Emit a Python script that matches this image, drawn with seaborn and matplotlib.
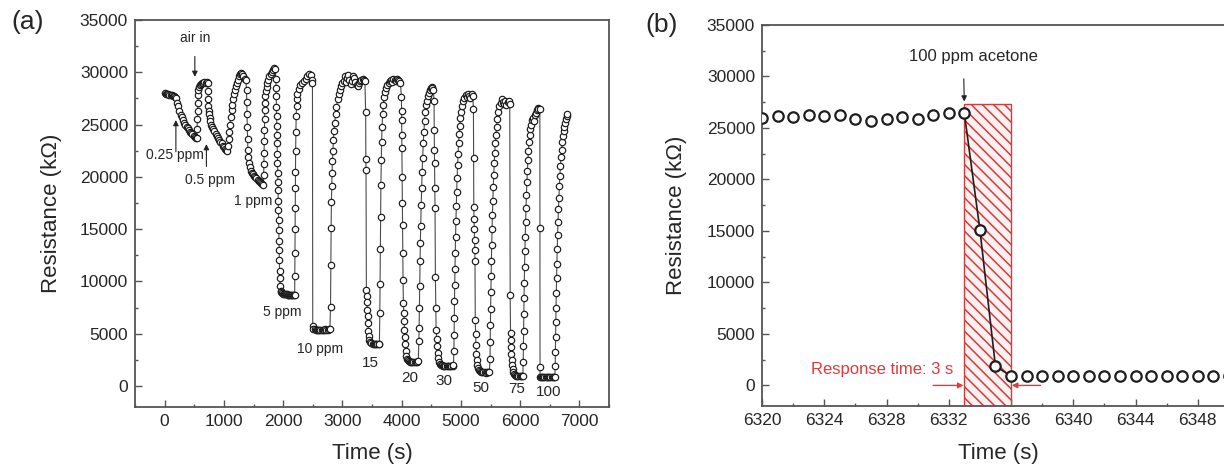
import numpy as np
import pandas as pd
import matplotlib
matplotlib.use("Agg")
import matplotlib.pyplot as plt
from matplotlib.patches import Rectangle
from matplotlib.ticker import MultipleLocator, FixedLocator
import seaborn as sns

# ---- panel (a): resistance vs time, one list pair per acetone pulse ----
t_0p25 = [0, 20, 40, 60, 80, 100, 120, 140, 160, 180,
          200, 215, 230, 250, 270, 290, 310, 330, 350, 370, 390, 410, 430, 450, 470, 490, 510, 530, 545,
          548, 552, 556, 560, 565, 570, 580, 595, 610, 630, 650, 670, 690, 710, 725]
r_0p25 = [28000, 27950, 27900, 27900, 27850, 27800, 27800, 27700, 27700, 27600,
          27500, 27100, 26800, 26300, 25900, 25700, 25400, 25200, 25000, 24800, 24700, 24500, 24300, 24200, 24100, 23950, 23850, 23750, 23700,
          24600, 25500, 26300, 27100, 27800, 28300, 28600, 28800, 28900, 29000, 29000, 29050, 29000, 29050, 29000]

t_0p5 = [732, 736, 740, 745, 750, 760, 770, 785, 800, 820, 840, 860, 880, 900, 920, 940, 960, 980, 1000, 1020, 1040, 1060,
         1070, 1080, 1090, 1100, 1115, 1130, 1145, 1160, 1175, 1190, 1205, 1220, 1240, 1260, 1280, 1295, 1310, 1330, 1350, 1370]
r_0p5 = [28200, 27400, 26800, 26300, 26000, 25600, 25300, 25000, 24800, 24550, 24350, 24100, 23900, 23700, 23500, 23350, 23200, 23000, 22850, 22700, 22600, 22500,
         23000, 23600, 24300, 25000, 25700, 26400, 26900, 27400, 27900, 28300, 28700, 29000, 29300, 29600, 29800, 29900, 29800, 29600, 29400, 29300]

t_1 = [1382, 1386, 1390, 1395, 1400, 1405, 1410, 1420, 1435, 1450, 1470, 1490, 1510, 1530, 1550, 1570, 1590, 1610, 1630, 1650, 1668,
       1672, 1675, 1678, 1681, 1684, 1687, 1690, 1695, 1700, 1710, 1720, 1735, 1750, 1770, 1790, 1810, 1830, 1850, 1865]
r_1 = [28300, 27200, 26000, 24800, 23600, 22600, 21900, 21300, 20900, 20600, 20400, 20250, 20100, 19950, 19850, 19700, 19600, 19500, 19400, 19300, 19250,
       20200, 21200, 22300, 23400, 24500, 25500, 26400, 27100, 27700, 28200, 28600, 29000, 29300, 29600, 29800, 30000, 30200, 30400, 30300]

t_5 = [1878, 1881, 1884, 1887, 1890, 1893, 1896, 1899, 1902, 1905, 1908, 1911, 1914, 1917, 1920, 1923, 1926, 1929, 1932, 1936, 1940, 1945, 1950, 1960,
       1970, 1985, 2000, 2015, 2030, 2045, 2060, 2075, 2090, 2105, 2120, 2135, 2150, 2165, 2180, 2195,
       2197, 2199, 2201, 2203, 2205, 2208, 2211, 2215, 2220, 2226, 2233, 2240,
       2260, 2290, 2320, 2350, 2380, 2410, 2440, 2470, 2490]
r_5 = [29400, 28500, 27700, 26700, 25800, 24900, 24000, 23200, 22200, 21300, 20400, 19500, 18700, 17700, 16800, 15900, 14900, 13900, 13000, 12100, 11000, 10300, 9600, 9100,
       8950, 8900, 8850, 8850, 8800, 8800, 8800, 8750, 8750, 8750, 8700, 8750, 8700, 8700, 8700, 8750,
       10500, 12700, 15000, 17000, 18900, 20500, 22500, 24300, 25800, 26800, 27400, 27900,
       28400, 28800, 29000, 29200, 29400, 29600, 29800, 29700, 29300]

t_10 = [2495, 2500,
        2510, 2530, 2550, 2570, 2590, 2610, 2630, 2650, 2670, 2690, 2710, 2730, 2750, 2770, 2790,
        2800, 2805, 2810, 2815, 2820, 2826, 2832, 2840, 2848, 2858, 2870, 2885, 2900, 2920, 2940, 2960, 2980, 3000,
        3020, 3040, 3060, 3080, 3100, 3120, 3140, 3160, 3180, 3200, 3220, 3240, 3260, 3280, 3300, 3320, 3340, 3360, 3380]
r_10 = [29000, 5700,
        5500, 5450, 5400, 5400, 5400, 5400, 5350, 5400, 5400, 5400, 5450, 5400, 5400, 5450, 5500,
        7600, 11600, 15100, 17600, 19100, 20400, 21500, 22500, 23500, 24400, 25200, 26000, 26700, 27400, 27900, 28300, 28700, 29000,
        29200, 29600, 29100, 29500, 29700, 29300, 28900, 29200, 29600, 29500, 29100, 28800, 28700, 29000, 29200, 29300, 29400, 29300, 29200]

t_15 = [3393, 3396, 3399, 3405, 3410, 3415, 3420, 3425, 3430, 3437, 3445, 3455, 3470, 3490, 3510, 3530, 3550, 3570, 3590, 3610, 3625,
        3632, 3636, 3640, 3645, 3650, 3656, 3662, 3670, 3680, 3692, 3705, 3720, 3740, 3760,
        3780, 3800, 3820, 3840, 3860, 3880, 3900, 3920, 3940, 3960, 3980]
r_15 = [26200, 21700, 20700, 9200, 8600, 8000, 7300, 6700, 6000, 5300, 4800, 4400, 4200, 4100, 4050, 4000, 4000, 4000, 4000, 4000, 4050,
        7000, 9800, 13100, 16200, 19200, 21600, 23300, 24800, 26000, 26900, 27600, 28100, 28500, 28800,
        29000, 29200, 29300, 29100, 29400, 29300, 29200, 29400, 29300, 29200, 29000]

t_20 = [3997, 3999, 4001, 4003, 4005, 4008, 4011, 4015, 4019, 4024, 4030, 4036, 4042, 4048, 4055, 4062, 4070, 4080, 4092, 4105,
        4120, 4140, 4160, 4180, 4200, 4220, 4240, 4260, 4280,
        4292, 4296, 4300, 4305, 4310, 4316, 4322, 4330, 4338, 4346, 4355, 4365, 4375, 4387, 4400, 4415, 4430,
        4445, 4460, 4475, 4490, 4505, 4520, 4535]
r_20 = [27600, 26300, 25400, 24000, 22800, 20000, 17500, 15400, 12700, 10100, 7900, 7000, 6200, 5400, 4700, 4000, 3400, 2900, 2600, 2450,
        2400, 2350, 2350, 2350, 2350, 2350, 2300, 2350, 2400,
        4300, 5600, 7500, 9600, 12000, 13700, 15300, 17300, 18900, 20500, 21800, 23200, 24300, 25300, 26200, 26900, 27300,
        27700, 28000, 28300, 28500, 28600, 28500, 28300]

t_30 = [4547, 4550, 4553, 4556, 4560, 4564, 4570, 4576, 4582, 4590, 4598, 4606, 4615, 4625, 4640,
        4660, 4680, 4700, 4720, 4740, 4760, 4780, 4800, 4820, 4840, 4860, 4875,
        4882, 4885, 4888, 4892, 4896, 4900, 4905, 4910, 4916, 4922, 4929, 4936, 4944, 4952, 4961, 4970, 4980, 4992, 5005,
        5020, 5040, 5060, 5080, 5100, 5120, 5140, 5160, 5180, 5200]
r_30 = [27300, 24500, 22600, 21300, 18900, 17000, 10400, 7500, 5400, 4500, 3800, 3200, 2700, 2300, 2100,
        2000, 2000, 1950, 1950, 1950, 1950, 1950, 1950, 1950, 1950, 1950, 2000,
        3400, 4900, 6500, 8100, 9700, 11200, 12700, 14300, 15800, 17200, 18600, 19900, 21100, 22200, 23200, 24100, 24900, 25600, 26200,
        26800, 27300, 27500, 27800, 27600, 27900, 27700, 27500, 27900, 27700]

t_50 = [5212, 5215, 5218, 5222, 5226, 5230, 5234, 5238, 5243, 5248, 5254, 5262, 5270, 5280, 5292, 5305, 5320,
        5340, 5360, 5380, 5400, 5420, 5440, 5460, 5480,
        5492, 5495, 5498, 5502, 5506, 5510, 5515, 5520, 5526, 5532, 5539, 5546, 5554, 5562, 5571, 5580, 5590, 5602, 5615,
        5630, 5650, 5670, 5690, 5710, 5730, 5750, 5770, 5790, 5810]
r_50 = [26500, 21800, 17100, 16000, 15000, 14000, 13000, 12000, 6300, 5000, 3900, 3100, 2500, 2000, 1700, 1500, 1400,
        1350, 1300, 1300, 1300, 1250, 1300, 1300, 1300,
        2600, 4200, 5800, 7400, 9000, 10500, 12000, 13500, 15000, 16400, 17700, 19000, 20200, 21300, 22300, 23200, 24000, 24800, 25500,
        26200, 26800, 27100, 27400, 27200, 27000, 27300, 26900, 27200, 27300]

t_75 = [5825, 5832, 5838, 5843, 5848, 5854, 5860, 5867, 5875, 5885, 5897, 5910,
        5930, 5950, 5970, 5990, 6010, 6030, 6045,
        6052, 6055, 6058, 6062, 6066, 6070, 6075, 6080, 6086, 6092, 6099, 6106, 6114, 6122, 6131, 6140, 6150, 6160,
        6175, 6190, 6205, 6220, 6235, 6250, 6265, 6280, 6295, 6305]
r_75 = [27000, 8700, 5100, 4400, 3700, 3100, 2500, 2000, 1600, 1300, 1150, 1050,
        1000, 1000, 950, 950, 950, 1000, 1000,
        2300, 3800, 5300, 6900, 8400, 9900, 11400, 12900, 14300, 15700, 17000, 18300, 19500, 20600, 21600, 22500, 23300, 24000,
        24600, 25000, 25400, 25600, 25300, 25900, 26100, 26400, 26600, 26500]

t_100 = [6333, 6334, 6335, 6336, 6350, 6370, 6390, 6410, 6430, 6450, 6470, 6490, 6510, 6530, 6550, 6570, 6585,
         6592, 6595, 6598, 6602, 6606, 6610, 6615, 6620, 6626, 6632, 6639, 6646, 6654, 6662, 6671, 6680, 6690, 6700,
         6712, 6724, 6736, 6748, 6760, 6772, 6785, 6798]
r_100 = [26450, 15100, 1850, 900, 880, 870, 860, 860, 850, 850, 850, 840, 850, 850, 840, 850, 850,
         1900, 3300, 4700, 6100, 7500, 8900, 10300, 11700, 13100, 14400, 15700, 16900, 18000, 19100, 20100, 21000, 21900, 22600,
         23300, 23900, 24400, 24800, 25200, 25500, 25800, 26000]

# concentration labels in (a): text, time, resistance
conc_labels = ["1 ppm", "5 ppm", "10 ppm", "15", "20", "30", "50", "75", "100"]
conc_t = [1490, 1985, 2615, 3465, 4140, 4715, 5340, 5940, 6485]
conc_r = [17700, 7050, 3550, 2250, 800, 500, -200, -300, -600]

# ---- panel (b): zoom on the 100 ppm pulse ----
t_b = [6320, 6321, 6322, 6323, 6324, 6325, 6326, 6327, 6328, 6329, 6330, 6331, 6332, 6333,
       6334, 6335, 6336, 6337, 6338, 6339, 6340, 6341, 6342, 6343, 6344, 6345, 6346, 6347,
       6348, 6349, 6350, 6351]
r_b = [25960, 26120, 26060, 26280, 26150, 26280, 25860, 25640, 25860, 26060, 25900, 26280, 26450, 26450,
       15130, 1870, 900, 880, 890, 880, 900, 890, 880, 890, 900, 880, 890, 880,
       890, 900, 880, 890]
b_xticks = [6320, 6324, 6328, 6332, 6336, 6340, 6344, 6348]
resp_start, resp_end = 6333, 6336

segs = [(t_0p25, r_0p25), (t_0p5, r_0p5), (t_1, r_1), (t_5, r_5), (t_10, r_10), (t_15, r_15),
        (t_20, r_20), (t_30, r_30), (t_50, r_50), (t_75, r_75), (t_100, r_100)]
df_a = pd.concat([pd.DataFrame({"t": t, "r": r}) for t, r in segs], ignore_index=True)
df_b = pd.DataFrame({"t": t_b, "r": r_b})

sns.set_style("ticks")
plt.rcParams["font.family"] = ["Liberation Sans", "DejaVu Sans"]
plt.rcParams["hatch.linewidth"] = 1.1
txt = "#262626"
spine_c = "#555555"

fig = plt.figure(figsize=(12.24, 4.65), dpi=100)
axa = fig.add_axes([135 / 1224, 58 / 465, 474 / 1224, 387 / 465])
axb = fig.add_axes([762 / 1224, 59 / 465, 498 / 1224, 381 / 465])

# panel (a)
sns.lineplot(data=df_a, x="t", y="r", ax=axa, sort=False, estimator=None,
             color="#4a4a4a", linewidth=0.8, marker="o", markersize=4.6,
             markerfacecolor="white", markeredgecolor="#1a1a1a", markeredgewidth=0.85)
axa.set_xlim(-500, 7500)
axa.set_ylim(-2000, 35000)
axa.xaxis.set_major_locator(MultipleLocator(1000))
axa.xaxis.set_minor_locator(MultipleLocator(500))

axa.annotate("air in", xy=(510, 29300), xytext=(510, 33300), ha="center", va="center",
             fontsize=10, color=txt,
             arrowprops=dict(arrowstyle="-|>", color="#222", lw=0.8, mutation_scale=8, shrinkA=6))
axa.annotate("", xy=(190, 25700), xytext=(190, 22400),
             arrowprops=dict(arrowstyle="-|>", color="#222", lw=0.8, mutation_scale=8, shrinkA=0))
axa.text(180, 22100, "0.25 ppm", ha="center", va="center", fontsize=10, color=txt)
axa.annotate("", xy=(705, 23400), xytext=(705, 21000),
             arrowprops=dict(arrowstyle="-|>", color="#222", lw=0.8, mutation_scale=8, shrinkA=0))
axa.text(770, 19700, "0.5 ppm", ha="center", va="center", fontsize=10, color=txt)
for lab, tx, rx in zip(conc_labels, conc_t, conc_r):
    axa.text(tx, rx, lab, ha="center", va="center", fontsize=10 if "ppm" in lab else 11, color=txt)

# panel (b)
axb.add_patch(Rectangle((resp_start, -2000), resp_end - resp_start, 29350, facecolor="#fdf0f0",
                        edgecolor="#d23c3c", hatch="\\\\\\", linewidth=1.0, zorder=1))
seg = df_b[(df_b.t >= resp_start) & (df_b.t <= resp_end)]
sns.lineplot(data=seg, x="t", y="r", ax=axb, color="#1e1e1e", linewidth=1.2, zorder=2)
sns.scatterplot(data=df_b, x="t", y="r", ax=axb, s=56, color="white",
                edgecolor="#1e1e1e", linewidth=1.6, zorder=3)
axb.set_xlim(6320, 6352)
axb.set_ylim(-2000, 35000)
axb.xaxis.set_major_locator(FixedLocator(b_xticks))
axb.xaxis.set_minor_locator(MultipleLocator(2))

axb.annotate("100 ppm acetone", xy=(6333, 27300), xytext=(6333.6, 31900), ha="center", va="center",
             fontsize=12, color=txt,
             arrowprops=dict(arrowstyle="-|>", color="#222", lw=0.8, mutation_scale=8,
                             shrinkA=8, relpos=(0.42, 0.5)))
axb.text(6332.3, 1500, "Response time: 3 s", ha="right", va="center", fontsize=12, color="#e0393e")
axb.annotate("", xy=(6332.95, 0), xytext=(6331.0, 0),
             arrowprops=dict(arrowstyle="-|>", color="#e0393e", lw=1.0, mutation_scale=8, shrinkA=0, shrinkB=0))
axb.annotate("", xy=(6336.05, 0), xytext=(6337.9, 0),
             arrowprops=dict(arrowstyle="-|>", color="#e0393e", lw=1.0, mutation_scale=8, shrinkA=0, shrinkB=0))

for ax, ylab_x, xlab_x, xlab_y in [(axa, -0.154, 0.5, -0.093), (axb, -0.151, 0.474, -0.097)]:
    ax.yaxis.set_major_locator(MultipleLocator(5000))
    ax.yaxis.set_minor_locator(MultipleLocator(2500))
    ax.tick_params(which="both", direction="in", color=spine_c, width=1.0,
                   labelsize=12.5, labelcolor=txt, top=False, right=False)
    ax.tick_params(which="major", length=5, pad=5)
    ax.tick_params(which="minor", length=2.5)
    for sp in ax.spines.values():
        sp.set_visible(True)
        sp.set_color(spine_c)
        sp.set_linewidth(1.3)
    ax.set_xlabel("Time (s)", fontsize=16, color=txt)
    ax.set_ylabel("Resistance (k\u03a9)", fontsize=16, color=txt)
    ax.yaxis.set_label_coords(ylab_x, 0.5)
    ax.xaxis.set_label_coords(xlab_x, xlab_y)

fig.text(28 / 1224, 1 - 22 / 465, "(a)", fontsize=19, color=txt, ha="center", va="center")
fig.text(662 / 1224, 1 - 25 / 465, "(b)", fontsize=19, color=txt, ha="center", va="center")

fig.savefig("out.png", dpi=100)
